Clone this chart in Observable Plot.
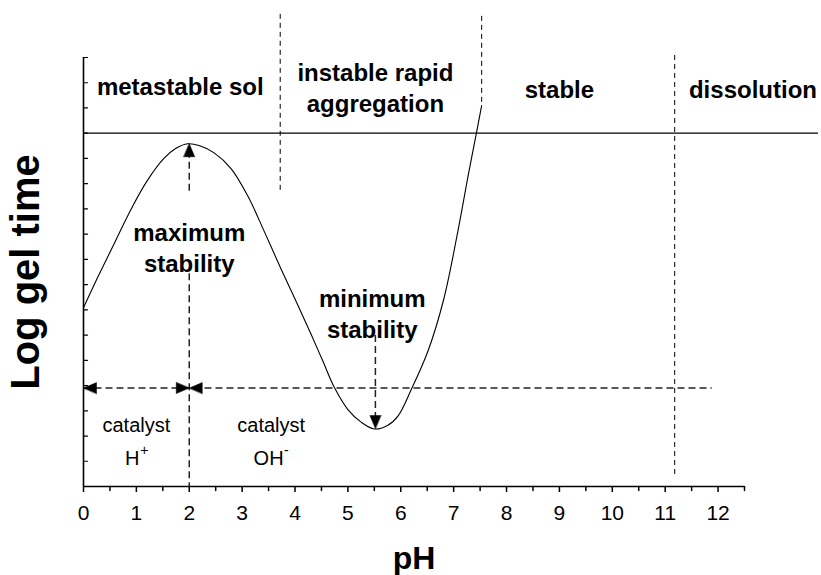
<!DOCTYPE html>
<html><head><meta charset="utf-8">
<script src="https://cdn.jsdelivr.net/npm/d3@7"></script>
<script src="https://cdn.jsdelivr.net/npm/@observablehq/plot@0.6"></script>
<style>
body{margin:0;background:#fff}
svg{font-family:"Liberation Sans",Arial,Helvetica,sans-serif}
</style>
</head><body><div id="chart"></div>
<script>
// Gel-time curve (pH vs log gel time, arbitrary units)
const curvePH   = [0, 0.26, 0.575, 0.89, 1.2, 1.52, 1.75, 1.97, 2.2, 2.47, 2.79, 3.11, 3.42, 3.74, 4.05, 4.31, 4.52, 4.75, 5.0, 5.25, 5.5, 5.75, 5.95, 6.2, 6.52, 6.81, 7.06, 7.29, 7.43, 7.53];
const curveLogT = [7.08, 8.25, 9.6, 10.95, 12.1, 13.0, 13.4, 13.58, 13.5, 13.22, 12.6, 11.5, 10.1, 8.6, 7.2, 6.0, 5.0, 3.9, 3.05, 2.55, 2.28, 2.42, 2.8, 3.85, 5.4, 7.4, 9.9, 12.5, 14.0, 15.1];

const xTicks = [0,1,2,3,4,5,6,7,8,9,10,11,12];
const xMinorTicks = [0.5,1.5,2.5,3.5,4.5,5.5,6.5,7.5,8.5,9.5,10.5,11.5,12.5];
const yTicks = [1,2,3,4,5,6,7,8,9,10,11,12,13,14,15,16,17];
const xDomain = [0, 12.5];
const yDomain = [0, 17];

// solid reference level
const stableLevel = 14;
const stableLineEnd = 13.9;

// region dividers (dashed)
const dividerX  = [3.72, 7.53, 11.18];
const dividerY1 = [18.73, 18.65, 17.1];
const dividerY2 = [11.67, 15.1, 0.48];

// dashed arrow shafts
const shaftX1 = [0, 2, 2, 5.52];
const shaftY1 = [3.9, 13.3, 8.45, 6.0];
const shaftX2 = [11.88, 2, 2, 5.52];
const shaftY2 = [3.9, 11.6, 0, 2.5];

// arrowheads: tip position and direction (degrees, 0 = up)
const headX   = [2, 5.52, 0, 2, 2];
const headY   = [13.58, 2.3, 3.9, 3.9, 3.9];
const headDir = [0, 180, 270, 90, 270];

// bold region / stability labels
const boldLabels = ["metastable sol", "instable rapid\naggregation", "stable", "dissolution", "maximum\nstability", "minimum\nstability"];
const boldX = [1.83, 5.52, 9.0, 12.66, 2.0, 5.46];
const boldY = [15.89, 15.85, 15.8, 15.8, 9.51, 6.9];

// catalyst labels
const catLabels = ["catalyst", "catalyst"];
const catX = [1.0, 3.55];
const catY = [2.4, 2.4];
const ionBase = ["H", "OH"];
const ionSup = ["+", "-"];
const ionX = [0.92, 3.5];
const ionY = [1.09, 1.09];

const curve = curvePH.map((x, i) => ({x, y: curveLogT[i]}));
const dividers = dividerX.map((x, i) => ({x, y1: dividerY1[i], y2: dividerY2[i]}));
const shafts = shaftX1.map((x1, i) => ({x1, y1: shaftY1[i], x2: shaftX2[i], y2: shaftY2[i]}));
const heads = headX.map((x, i) => ({x, y: headY[i], r: headDir[i]}));
const bold = boldLabels.map((t, i) => ({t, x: boldX[i], y: boldY[i]}));
const cats = catLabels.map((t, i) => ({t, x: catX[i], y: catY[i]}));
const ions = ionBase.map((t, i) => ({t, s: ionSup[i], x: ionX[i], y: ionY[i]}));

const triShape = {draw(ctx, l, r) { ctx.moveTo(0, -l); ctx.lineTo(r, 0); ctx.lineTo(-r, 0); ctx.closePath(); }};
const tickShape = {draw(ctx, l) { ctx.moveTo(0, 0); ctx.lineTo(0, -l); }};

const chart = Plot.plot({
  width: 821,
  height: 575,
  marginLeft: 83,
  marginRight: 77,
  marginTop: 57,
  marginBottom: 89,
  style: {fontFamily: '"Liberation Sans", Arial, sans-serif', background: "#fff"},
  x: {domain: xDomain},
  y: {domain: yDomain, axis: null},
  marks: [
    Plot.ruleX([0], {y1: yDomain[0], y2: yDomain[1], stroke: "black", strokeWidth: 1.6}),
    Plot.ruleY([0], {x1: xDomain[0], x2: xDomain[1], stroke: "black", strokeWidth: 1.6}),
    Plot.axisX({ticks: xTicks, tickSize: 6, tickPadding: 13, fontSize: 21, label: null, tickFormat: d => String(d), strokeWidth: 1.5}),
    Plot.vector(xMinorTicks, {x: d => d, y: 0, length: 4, rotate: 180, anchor: "start", shape: tickShape, strokeWidth: 1.5}),
    Plot.vector(yTicks, {x: 0, y: d => d, length: 4, rotate: 90, anchor: "start", shape: tickShape, strokeWidth: 1.2}),
    Plot.ruleY([stableLevel], {x1: 0, x2: stableLineEnd, stroke: "black", strokeWidth: 1.2}),
    Plot.link(dividers, {x1: "x", x2: "x", y1: "y1", y2: "y2", stroke: "black", strokeWidth: 1, strokeDasharray: "5,4"}),
    Plot.link(shafts, {x1: "x1", y1: "y1", x2: "x2", y2: "y2", stroke: "#222", strokeWidth: 1.5, strokeDasharray: "7,4"}),
    Plot.line(curve, {x: "x", y: "y", curve: "catmull-rom", stroke: "black", strokeWidth: 1.1}),
    Plot.vector(heads, {x: "x", y: "y", rotate: "r", length: 13, r: 5.5, anchor: "end", shape: triShape, fill: "black", stroke: "black", strokeWidth: 0.5}),
    Plot.text(bold, {x: "x", y: "y", text: "t", fontSize: 24, fontWeight: "bold", lineHeight: 1.28, fill: "black", lineAnchor: "middle"}),
    Plot.text(cats, {x: "x", y: "y", text: "t", fontSize: 20, fill: "black", lineAnchor: "middle"}),
    Plot.text(ions, {x: "x", y: "y", text: "t", fontSize: 20, fill: "black", lineAnchor: "middle"}),
    Plot.text(ions, {x: "x", y: "y", text: "s", fontSize: 14, fill: "black", lineAnchor: "middle", textAnchor: "start", dx: 8, dy: -8, filter: d => d.s === "+"}),
    Plot.text(ions, {x: "x", y: "y", text: "s", fontSize: 14, fill: "black", lineAnchor: "middle", textAnchor: "start", dx: 15.5, dy: -8, filter: d => d.s === "-"}),
    Plot.text(["pH"], {frameAnchor: "bottom", dy: 72, fontSize: 32, fontWeight: "bold", fill: "black", lineAnchor: "middle"}),
    Plot.text(["Log gel time"], {frameAnchor: "left", dx: -57, rotate: -90, fontSize: 40, fontWeight: "bold", fill: "black", textAnchor: "middle", lineAnchor: "middle"})
  ]
});
document.getElementById("chart").appendChild(chart);
</script>
</body></html>
